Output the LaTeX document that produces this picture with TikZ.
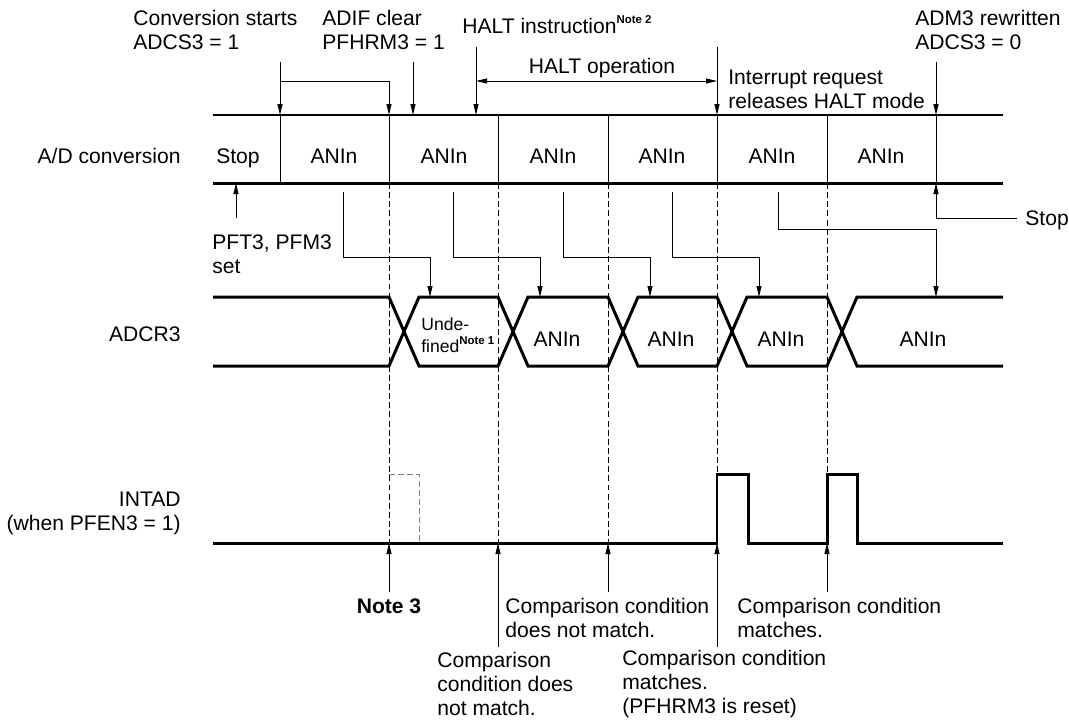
\documentclass[tikz,border=0pt]{standalone}
\usepackage{fontspec}
\setmainfont{Liberation Sans}
\usepackage{tikz}
\usetikzlibrary{arrows.meta, calc}

\newcommand{\notemark}[1]{\raisebox{0.85ex}{\fontsize{6.5}{7}\selectfont\bfseries #1}}

\begin{document}
\begin{tikzpicture}[
    x=0.02cm, y=-0.02cm,
    font=\fontsize{12}{13.6}\selectfont,
    bus/.style={line width=1.7pt},
    pointer/.style={-{Triangle[length=2.2mm, width=1mm]}, line width=0.55pt},
    guide/.style={line width=0.55pt, dash pattern=on 3.4pt off 1.8pt},
    txt/.style={inner sep=0pt, anchor=base west, align=left},
    seg/.style={inner sep=0pt, anchor=base}
]
\useasboundingbox (0,0) rectangle (1069,721);

% A/D conversion bus
\draw[bus] (213,115) -- (1003,115);
\draw[bus] (213,183) -- (1003,183);
\foreach \x [count=\i] in {280,389,498,608,717,827,936} {
  \coordinate (e\i) at (\x,115);
  \draw[line width=0.55pt] (\x,115) -- (\x,183);
}
\node[inner sep=0pt, anchor=base east] (adlbl) at (181,163) {A/D conversion};
\node[seg] (s0) at (238,163) {Stop};
\foreach \x [count=\i] in {334,444,553,662,772,881}
  \node[seg] (s\i) at (\x,163) {ANIn};

% Events above the bus (base = last line)
\node[txt] (conv) at (133,49) {Conversion starts\\ADCS3 = 1};
\node[txt] (adif) at (322,49) {ADIF clear\\PFHRM3 = 1};
\node[txt] (halt) at (462,33) {HALT instruction\notemark{Note 2}};
\node[seg] (haltop) at (602,73) {HALT operation};
\node[txt] (intreq) at (728,108) {Interrupt request\\releases HALT mode};
\node[txt] (adm) at (915,49) {ADM3 rewritten\\ADCS3 = 0};

\draw[pointer] (280,62) -- (e1);
\draw[pointer] (280,81) -| (e2);
\draw[pointer] (413,62) -- (413,115);
\draw[pointer] (476,47) -- (476,115);
\draw[pointer] (717,47) -- (e5);
\draw[pointer] (936,62) -- (e7);
\draw[{Triangle[length=2.2mm, width=1mm]}-{Triangle[length=2.2mm, width=1mm]}, line width=0.55pt] (476,81) -- (717,81);

% Below the bus
\node[txt] (pft) at (212,273) {PFT3, PFM3\\set};
\node[txt] (stop) at (1025,225) {Stop};
\draw[pointer] (236,218) -- (236,183);
\draw[pointer] (stop.west |- 936,218) ++(-8,0) -- (936,218) -- (936,183);

% ADCR3 bus
\node[inner sep=0pt, anchor=base east] (adcr) at (181,341) {ADCR3};
\draw[bus] (213,297) -- (389,297) -- (419,366) -- (498,366) -- (528,297) -- (608,297) -- (638,366)
  -- (717,366) -- (747,297) -- (827,297) -- (857,366) -- (1003,366);
\draw[bus] (213,366) -- (389,366) -- (419,297) -- (498,297) -- (528,366) -- (608,366) -- (638,297)
  -- (717,297) -- (747,366) -- (827,366) -- (857,297) -- (1003,297);
\node[txt, font=\fontsize{10}{12.2}\selectfont] (undef) at (421,352) {Unde-\\fined\notemark{Note 1}};
\foreach \x [count=\i] in {557,671,781,923}
  \node[seg] (r\i) at (\x,346) {ANIn};

% Results into ADCR3
\foreach \s/\t [count=\i] in {343/430, 453/540, 563/650, 672/759} {
  \coordinate (src\i) at (\s,192);
  \coordinate (dst\i) at (\t,297);
  \draw[pointer] (src\i) -- ++(0,65) -| (dst\i);
}
\coordinate (src5) at (778,192);
\coordinate (dst5) at (936,297);
\draw[pointer] (src5) -- ++(0,37) -| (dst5);

% Guides
\foreach \x in {389,498,608,717,827}
  \draw[guide] (\x,183) -- (\x,543);

% INTAD
\node[inner sep=0pt, anchor=base east, align=right] (intad) at (181,530) {INTAD\\(when PFEN3 = 1)};
\draw[bus] (213,543) -- (717,543) -- (717,474) -- (748,474) -- (748,543) -- (827,543)
  -- (827,474) -- (857,474) -- (857,543) -- (1003,543);
\draw[guide, gray] (389,474) -- (419,474) -- (419,543);

% Comparison results
\foreach \x [count=\i] in {389,498,608,717,827}
  \coordinate (i\i) at (\x,543);
\node[seg, font=\fontsize{12}{13.6}\selectfont\bfseries] (note3) at (389,613) {Note 3};
\node[txt] (cmp1) at (437,715) {Comparison\\condition does\\not match.};
\node[txt] (cmp2) at (505,637) {Comparison condition\\does not match.};
\node[txt] (cmp3) at (622,713) {Comparison condition\\matches.\\(PFHRM3 is reset)};
\node[txt] (cmp4) at (737,637) {Comparison condition\\matches.};
\draw[pointer] (389,592) -- (i1);
\draw[pointer] (498,647) -- (i2);
\draw[pointer] (608,592) -- (i3);
\draw[pointer] (717,647) -- (i4);
\draw[pointer] (827,592) -- (i5);

\end{tikzpicture}
\end{document}
